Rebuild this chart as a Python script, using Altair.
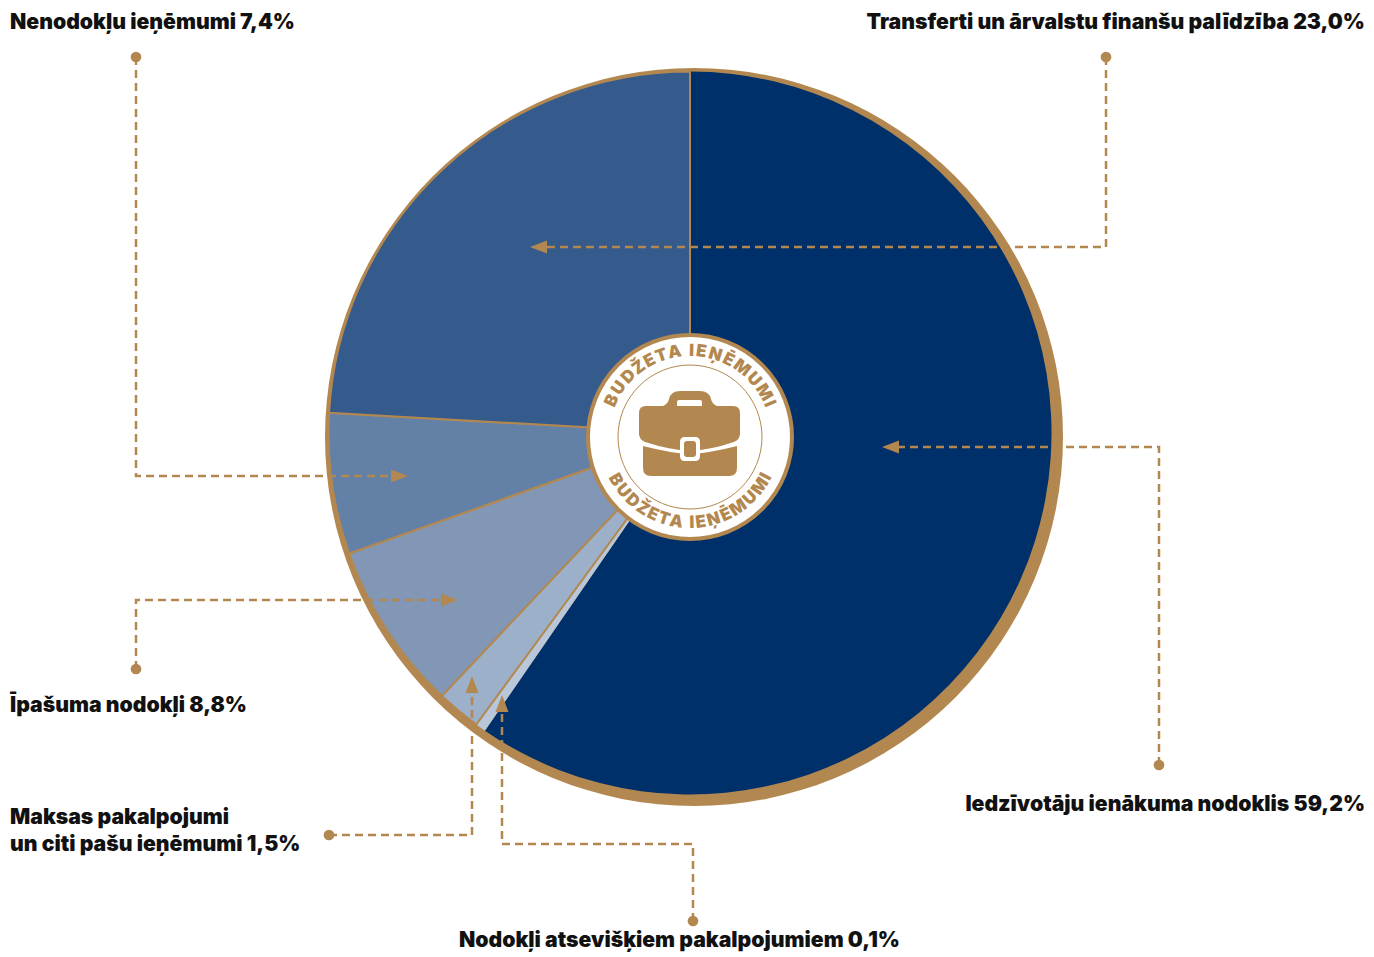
import math
import altair as alt
import pandas as pd

FONT = "Inter"
BROWN = "#B38850"

# slice widths (percent of the circle) as drawn in the picture
slice_names = ["income", "services", "fees", "property", "nontax", "transfers"]
slice_values = [59.6, 0.47, 1.97, 7.55, 6.3, 24.11]
slice_colors = ["#003069", "#B9C7DA", "#9DB0C9", "#8297B5", "#6380A6", "#355A8C"]
slice_stroked = [False, False, True, True, True, True]

PIE_X, PIE_Y, PIE_R = 690, 433, 361.5
DISC_X, DISC_Y, DISC_R = 694, 437, 369
HUB_X, HUB_Y = 690, 437

label_text = [
    "Nenodokļu ieņēmumi 7,4%",
    "Transferti un ārvalstu finanšu palīdzība 23,0%",
    "Iedzīvotāju ienākuma nodoklis 59,2%",
    "Īpašuma nodokļi 8,8%",
    "Maksas pakalpojumi",
    "un citi pašu ieņēmumi 1,5%",
    "Nodokļi atsevišķiem pakalpojumiem 0,1%",
]
label_x = [10, 1365, 1365, 10, 10, 10, 459]
label_y = [23, 23, 805, 706, 818, 845, 941]
label_align = ["left", "right", "right", "left", "left", "left", "left"]

leader_id = [0, 0, 0, 1, 1, 1, 2, 2, 2, 3, 3, 3, 4, 4, 4, 5, 5, 5, 5]
leader_x = [136, 136, 404, 1106, 1106, 534, 1159, 1159, 886, 136, 136, 454, 329, 472, 472, 693, 693, 502, 502]
leader_y = [57, 476, 476, 57, 247, 247, 765, 447, 447, 669, 600, 600, 835, 835, 680, 921, 844, 844, 699]

dot_x = [136, 1106, 1159, 136, 329, 693]
dot_y = [57, 57, 765, 669, 835, 921]

arrow_x = [408, 530, 882, 458, 472, 502]
arrow_y = [476, 247, 447, 600, 676, 695]
arrow_angle = [90, 270, 270, 90, 0, 0]

top_chars = list("BUDŽETA IEŅĒMUMI")
top_angles = [-65, -55.4, -45.5, -36.3, -27.8, -19.3, -10.2, -3.3, 1.1, 7.6, 17.1, 26.6, 36.9, 48, 59, 67.4]
bottom_chars = list("BUDŽETA IEŅĒMUMI")
bottom_angles = [60, 51.2, 42, 33.4, 25.6, 17.7, 9.3, 2.9, -1.2, -7.2, -16, -24.8, -34.3, -44.6, -54.8, -62.5]
TEXT_R = 86

ARROW_PATH = "M0,0 L6.5,17 L-6.5,17 Z"
CASE_TOP = ("M-44,-31 L-27,-31 Q-22,-33 -21,-38 Q-19,-46 -10,-46 L10,-46 Q19,-46 21,-38 "
            "Q22,-33 27,-31 L43,-31 Q50,-31 50,-24 L50,-3 Q50,2 44,5 Q20,13 0,14 "
            "Q-20,13 -45,5 Q-51,2 -51,-3 L-51,-24 Q-51,-31 -44,-31 Z")
CASE_HOLE = "M-11,-37 L10,-37 Q12,-37 12,-35 L12,-31 L-13,-31 L-13,-35 Q-13,-37 -11,-37 Z"
CASE_BODY = ("M-47,9 Q-20,16 0,17 Q20,16 47,9 L47,31 Q47,39 39,39 L-39,39 "
             "Q-47,39 -47,31 Z")
BUCKLE_OUT = ("M-5,0 L5,0 Q10,0 10,5 L10,19 Q10,24 5,24 L-5,24 Q-10,24 -10,19 "
              "L-10,5 Q-10,0 -5,0 Z")
BUCKLE_IN = ("M-3,4 L3,4 Q6,4 6,7 L6,17 Q6,20 3,20 L-3,20 Q-6,20 -6,17 "
             "L-6,7 Q-6,4 -3,4 Z")

W, H = 1358, 945
X = alt.Scale(domain=[8, 8 + W], nice=False, zero=False)
Y = alt.Scale(domain=[8 + H, 8], nice=False, zero=False)
THETA = alt.Scale(domain=[0, 100], range=[0, 2 * math.pi])


def xy(xf="x", yf="y"):
    return dict(x=alt.X(f"{xf}:Q", scale=X, axis=None),
                y=alt.Y(f"{yf}:Q", scale=Y, axis=None))


ends, run = [], 0.0
for v in slice_values:
    run += v
    ends.append(run)
starts = [0.0] + ends[:-1]
slices = pd.DataFrame(dict(name=slice_names, start=starts, end=ends,
                           stroked=slice_stroked, x=PIE_X, y=PIE_Y))
color = alt.Color("name:N", scale=alt.Scale(domain=slice_names, range=slice_colors), legend=None)


def arc_layer(df, **kw):
    return alt.Chart(df).mark_arc(outerRadius=PIE_R, innerRadius=0, **kw).encode(
        theta=alt.Theta("start:Q", scale=THETA), theta2=alt.Theta2("end:Q"),
        color=color, **xy())


disc = alt.Chart(pd.DataFrame(dict(start=[0], end=[100], x=[DISC_X], y=[DISC_Y]))).mark_arc(
    outerRadius=DISC_R, innerRadius=0, color=BROWN).encode(
    theta=alt.Theta("start:Q", scale=THETA), theta2=alt.Theta2("end:Q"), **xy())

plain = arc_layer(slices[~slices.stroked])
edged = arc_layer(slices[slices.stroked], stroke=BROWN, strokeWidth=2)

hub_df = pd.DataFrame(dict(x=[HUB_X], y=[HUB_Y]))
hub = alt.Chart(hub_df).mark_point(shape="circle", size=41616, filled=True, fill="white",
                                   stroke=BROWN, strokeWidth=4, opacity=1).encode(**xy())
ring = alt.Chart(hub_df).mark_point(shape="circle", size=20736, filled=False,
                                    stroke=BROWN, strokeWidth=1, opacity=1).encode(**xy())


def glyph(path, fill):
    return alt.Chart(hub_df).mark_point(shape=path, size=4, filled=True, fill=fill,
                                        stroke=None, opacity=1).encode(**xy())


chars = []
for c, a in zip(top_chars, top_angles):
    r = math.radians(a)
    chars.append(dict(ch=c, x=HUB_X + TEXT_R * math.sin(r), y=HUB_Y - TEXT_R * math.cos(r), a=a % 360))
for c, a in zip(bottom_chars, bottom_angles):
    r = math.radians(a)
    chars.append(dict(ch=c, x=HUB_X - TEXT_R * math.sin(r), y=HUB_Y + TEXT_R * math.cos(r), a=a % 360))
ring_text = alt.Chart(pd.DataFrame(chars)).mark_text(
    font=FONT, fontWeight=900, fontSize=17, color=BROWN, baseline="middle", align="center").encode(
    text="ch:N", angle=alt.Angle("a:Q", scale=None), **xy())

lines = alt.Chart(pd.DataFrame(dict(id=leader_id, x=leader_x, y=leader_y,
                                    o=range(len(leader_x))))).mark_line(
    color=BROWN, strokeWidth=2.5, strokeDash=[8, 5]).encode(
    detail="id:N", order="o:Q", **xy())
dots = alt.Chart(pd.DataFrame(dict(x=dot_x, y=dot_y))).mark_point(
    shape="circle", size=115, filled=True, fill=BROWN, opacity=1, stroke=None).encode(**xy())
arrows = alt.Chart(pd.DataFrame(dict(x=arrow_x, y=arrow_y, a=arrow_angle))).mark_point(
    shape=ARROW_PATH, size=4, filled=True, fill=BROWN, opacity=1, stroke=None).encode(
    angle=alt.Angle("a:Q", scale=None), **xy())

labels_df = pd.DataFrame(dict(t=label_text, x=label_x, y=label_y, al=label_align))
labels = [
    alt.Chart(labels_df[labels_df.al == al]).mark_text(
        font=FONT, fontWeight=900, fontSize=21.2, color="#111111", align=al, baseline="middle"
    ).encode(text="t:N", **xy())
    for al in ["left", "right"]
]

chart = alt.layer(
    disc, plain, edged, hub, ring,
    glyph(CASE_TOP, BROWN), glyph(CASE_HOLE, "white"), glyph(CASE_BODY, BROWN),
    glyph(BUCKLE_OUT, "white"), glyph(BUCKLE_IN, BROWN),
    ring_text, lines, dots, arrows, *labels,
).properties(width=W, height=H, padding=0, background="white",
             autosize=alt.AutoSizeParams(type="none")).configure_view(stroke=None)

chart.save("out.html", embed_options={"renderer": "svg", "actions": False})
